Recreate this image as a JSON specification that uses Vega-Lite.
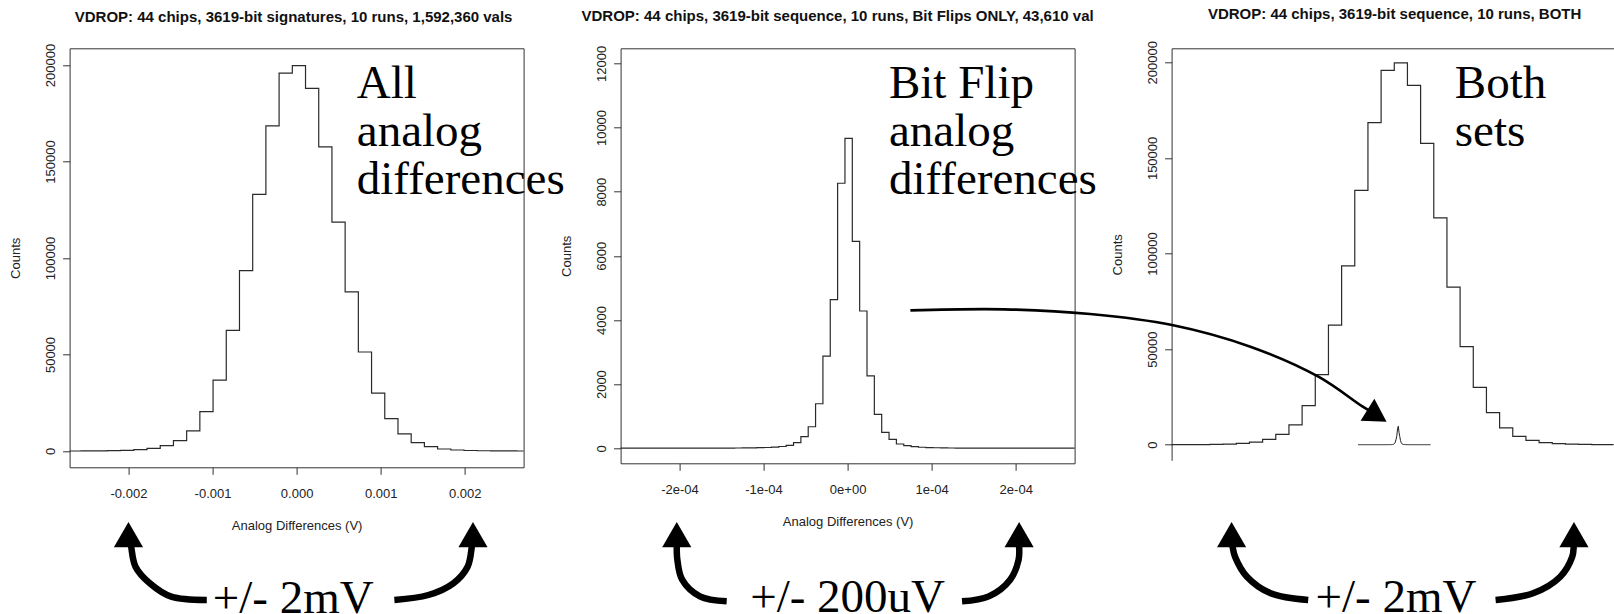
{
  "$schema": "https://vega.github.io/schema/vega-lite/v6.json",
  "autosize": {"type": "none"},
  "padding": {"left": 69.6, "top": 48.3, "right": 1544.4, "bottom": 565.7},
  "background": "white",
  "spacing": 97,
  "bounds": "flush",
  "datasets": {
    "all": [
      {"x": -0.0027217, "y": 10}, {"x": -0.0025646, "y": 30}, {"x": -0.0024075, "y": 70},
      {"x": -0.0022504, "y": 150}, {"x": -0.0020933, "y": 300}, {"x": -0.0019362, "y": 700},
      {"x": -0.0017791, "y": 1390}, {"x": -0.001622, "y": 2770}, {"x": -0.0014649, "y": 5360},
      {"x": -0.0013078, "y": 10400}, {"x": -0.0011507, "y": 20400}, {"x": -0.0009936, "y": 36700},
      {"x": -0.0008365, "y": 62500}, {"x": -0.0006794, "y": 93500}, {"x": -0.0005223, "y": 133000},
      {"x": -0.0003652, "y": 168500}, {"x": -0.0002081, "y": 195800}, {"x": -0.000051, "y": 199700},
      {"x": 0.0001061, "y": 187900}, {"x": 0.0002632, "y": 157600}, {"x": 0.0004203, "y": 118600},
      {"x": 0.0005774, "y": 82400}, {"x": 0.0007345, "y": 51300}, {"x": 0.0008916, "y": 30000},
      {"x": 0.0010487, "y": 16800}, {"x": 0.0012058, "y": 8830}, {"x": 0.0013629, "y": 4330},
      {"x": 0.00152, "y": 2250}, {"x": 0.0016771, "y": 1040}, {"x": 0.0018342, "y": 520},
      {"x": 0.0019913, "y": 250}, {"x": 0.0021484, "y": 120}, {"x": 0.0023055, "y": 60},
      {"x": 0.0024626, "y": 30}, {"x": 0.0026197, "y": 10}, {"x": 0.0027768, "y": 5}
    ],
    "flip": [
      {"x": -0.00048384, "y": 1}, {"x": -0.0004751, "y": 1}, {"x": -0.00046636, "y": 1}, {"x": -0.00045762, "y": 1},
      {"x": -0.00044888, "y": 1}, {"x": -0.00044014, "y": 1}, {"x": -0.0004314, "y": 1}, {"x": -0.00042266, "y": 1},
      {"x": -0.00041392, "y": 1}, {"x": -0.00040518, "y": 1}, {"x": -0.00039644, "y": 1}, {"x": -0.0003877, "y": 1},
      {"x": -0.00037896, "y": 1}, {"x": -0.00037022, "y": 1}, {"x": -0.00036148, "y": 1}, {"x": -0.00035274, "y": 1},
      {"x": -0.000344, "y": 1}, {"x": -0.00033526, "y": 1}, {"x": -0.00032652, "y": 1}, {"x": -0.00031778, "y": 2},
      {"x": -0.00030904, "y": 2}, {"x": -0.0003003, "y": 2}, {"x": -0.00029156, "y": 2}, {"x": -0.00028282, "y": 2},
      {"x": -0.00027408, "y": 2}, {"x": -0.00026534, "y": 2}, {"x": -0.0002566, "y": 2}, {"x": -0.00024786, "y": 2},
      {"x": -0.00023912, "y": 2}, {"x": -0.00023038, "y": 3}, {"x": -0.00022164, "y": 3}, {"x": -0.0002129, "y": 3},
      {"x": -0.00020416, "y": 3}, {"x": -0.00019542, "y": 3}, {"x": -0.00018668, "y": 3}, {"x": -0.00017794, "y": 3},
      {"x": -0.0001692, "y": 4}, {"x": -0.00016046, "y": 5}, {"x": -0.00015172, "y": 6}, {"x": -0.00014298, "y": 7},
      {"x": -0.00013424, "y": 9}, {"x": -0.0001255, "y": 11}, {"x": -0.00011676, "y": 14}, {"x": -0.00010802, "y": 18},
      {"x": -0.00009928, "y": 25}, {"x": -0.00009054, "y": 35}, {"x": -0.0000818, "y": 55}, {"x": -0.00007306, "y": 93},
      {"x": -0.00006432, "y": 174}, {"x": -0.00005558, "y": 361}, {"x": -0.00004684, "y": 672}, {"x": -0.0000381, "y": 1388},
      {"x": -0.00002936, "y": 2871}, {"x": -0.00002062, "y": 4634}, {"x": -0.00001188, "y": 8262}, {"x": -0.00000314, "y": 9661},
      {"x": 0.0000056, "y": 6448}, {"x": 0.00001434, "y": 4280}, {"x": 0.00002308, "y": 2258}, {"x": 0.00003182, "y": 1057},
      {"x": 0.00004056, "y": 497}, {"x": 0.0000493, "y": 280}, {"x": 0.00005804, "y": 134}, {"x": 0.00006678, "y": 81},
      {"x": 0.00007552, "y": 50}, {"x": 0.00008426, "y": 32}, {"x": 0.000093, "y": 22}, {"x": 0.00010174, "y": 16},
      {"x": 0.00011048, "y": 12}, {"x": 0.00011922, "y": 9}, {"x": 0.00012796, "y": 7}, {"x": 0.0001367, "y": 6},
      {"x": 0.00014544, "y": 5}, {"x": 0.00015418, "y": 4}, {"x": 0.00016292, "y": 3}, {"x": 0.00017166, "y": 3},
      {"x": 0.0001804, "y": 3}, {"x": 0.00018914, "y": 3}, {"x": 0.00019788, "y": 3}, {"x": 0.00020662, "y": 3},
      {"x": 0.00021536, "y": 2}, {"x": 0.0002241, "y": 2}, {"x": 0.00023284, "y": 2}, {"x": 0.00024158, "y": 2},
      {"x": 0.00025032, "y": 2}, {"x": 0.00025906, "y": 2}, {"x": 0.0002678, "y": 2}, {"x": 0.00027654, "y": 2},
      {"x": 0.00028528, "y": 1}, {"x": 0.00029402, "y": 1}, {"x": 0.00030276, "y": 1}, {"x": 0.0003115, "y": 1},
      {"x": 0.00032024, "y": 1}, {"x": 0.00032898, "y": 1}, {"x": 0.00033772, "y": 1}, {"x": 0.00034646, "y": 1},
      {"x": 0.0003552, "y": 1}, {"x": 0.00036394, "y": 1}, {"x": 0.00037268, "y": 1}, {"x": 0.00038142, "y": 0}
    ]
  },
  "hconcat": [
    {
      "width": 454,
      "height": 419,
      "title": {"text": "VDROP: 44 chips, 3619-bit signatures, 10 runs, 1,592,360 vals", "dx": -3, "offset": 18.8},
      "encoding": {
        "x": {"field": "x", "type": "quantitative",
              "scale": {"domain": [-0.0027, 0.0027], "nice": false, "zero": false},
              "axis": {"values": [-0.002, -0.001, 0, 0.001, 0.002], "format": ".3f", "title": "Analog Differences (V)"}},
        "y": {"field": "y", "type": "quantitative",
              "scale": {"domain": [-8446, 208653], "nice": false, "zero": false},
              "axis": {"values": [0, 50000, 100000, 150000, 200000], "format": "d", "title": "Counts"}}
      },
      "layer": [
        {"data": {"name": "all"},
         "mark": {"type": "line", "interpolate": "step-after", "clip": true, "color": "#2a2a2a", "strokeWidth": 1.2}},
        {"data": {"values": [{"x": 0.000716, "y": 183160, "t": "All\nanalog\ndifferences"}]},
         "mark": {"type": "text", "font": "Liberation Serif", "fontSize": 47, "lineHeight": 48, "lineBreak": "\n", "align": "left", "baseline": "alphabetic", "color": "#000"},
         "encoding": {"text": {"field": "t"}}},
        {"data": {"values": [{"x": -0.00004, "y": -83680, "t": "+/- 2mV"}]},
         "mark": {"type": "text", "font": "Liberation Serif", "fontSize": 47, "align": "center", "baseline": "alphabetic", "color": "#000"},
         "encoding": {"text": {"field": "t"}}},
        {"data": {"values": [
          {"a": "L", "i": 0, "x": -0.001068, "y": -77200}, {"a": "L", "i": 1, "x": -0.001491, "y": -75490},
          {"a": "L", "i": 2, "x": -0.001746, "y": -68550}, {"a": "L", "i": 3, "x": -0.001916, "y": -59950},
          {"a": "L", "i": 4, "x": -0.001967, "y": -49590}, {"a": "L", "i": 5, "x": -0.001977, "y": -46110},
          {"a": "R", "i": 0, "x": 0.001163, "y": -77200}, {"a": "R", "i": 1, "x": 0.001567, "y": -74610},
          {"a": "R", "i": 2, "x": 0.001864, "y": -68550}, {"a": "R", "i": 3, "x": 0.002034, "y": -59950},
          {"a": "R", "i": 4, "x": 0.002084, "y": -49590}, {"a": "R", "i": 5, "x": 0.002093, "y": -46110}
         ]},
         "mark": {"type": "line", "interpolate": "catmull-rom", "color": "#000", "strokeWidth": 6.5},
         "encoding": {"detail": {"field": "a"}, "order": {"field": "i"}}},
        {"data": {"values": [{"x": -0.002, "y": -43300}, {"x": 0.002098, "y": -43300}]},
         "mark": {"type": "point", "shape": "triangle-up", "filled": true, "size": 850, "color": "#000", "opacity": 1}}
      ]
    },
    {
      "width": 454,
      "height": 415,
      "title": {"text": "VDROP: 44 chips, 3619-bit sequence, 10 runs, Bit Flips ONLY, 43,610 val", "dx": -10, "offset": 21},
      "encoding": {
        "x": {"field": "x", "type": "quantitative",
              "scale": {"domain": [-0.00027, 0.00027], "nice": false, "zero": false},
              "axis": {"values": [-0.0002, -0.0001, 0, 0.0001, 0.0002],
                       "labelExpr": "datum.value == 0 ? '0e+00' : format(datum.value * 10000, '.0f') + 'e-04'",
                       "title": "Analog Differences (V)"}},
        "y": {"field": "y", "type": "quantitative",
              "scale": {"domain": [-468, 12469], "nice": false, "zero": false},
              "axis": {"values": [0, 2000, 4000, 6000, 8000, 10000, 12000], "format": "d", "title": "Counts"}}
      },
      "layer": [
        {"data": {"name": "flip"},
         "mark": {"type": "line", "interpolate": "step-after", "clip": true, "color": "#2a2a2a", "strokeWidth": 1.2}},
        {"data": {"values": [{"x": 0.0000492, "y": 10929, "t": "Bit Flip\nanalog\ndifferences"}]},
         "mark": {"type": "text", "font": "Liberation Serif", "fontSize": 47, "lineHeight": 48, "lineBreak": "\n", "align": "left", "baseline": "alphabetic", "color": "#000"},
         "encoding": {"text": {"field": "t"}}},
        {"data": {"values": [{"x": 0.0, "y": -5118, "t": "+/- 200uV"}]},
         "mark": {"type": "text", "font": "Liberation Serif", "fontSize": 47, "align": "center", "baseline": "alphabetic", "color": "#000"},
         "encoding": {"text": {"field": "t"}}},
        {"data": {"values": [
          {"a": "L", "i": 0, "x": -0.0001438, "y": -4771}, {"a": "L", "i": 1, "x": -0.0001757, "y": -4616},
          {"a": "L", "i": 2, "x": -0.0001968, "y": -4096}, {"a": "L", "i": 3, "x": -0.0002025, "y": -3474},
          {"a": "L", "i": 4, "x": -0.0002032, "y": -3061},
          {"a": "R", "i": 0, "x": 0.0001361, "y": -4771}, {"a": "R", "i": 1, "x": 0.0001679, "y": -4616},
          {"a": "R", "i": 2, "x": 0.0001934, "y": -4096}, {"a": "R", "i": 3, "x": 0.0002034, "y": -3474},
          {"a": "R", "i": 4, "x": 0.000204, "y": -3061}
         ]},
         "mark": {"type": "line", "interpolate": "catmull-rom", "color": "#000", "strokeWidth": 6.5},
         "encoding": {"detail": {"field": "a"}, "order": {"field": "i"}}},
        {"data": {"values": [{"x": -0.0002032, "y": -2693}, {"x": 0.000204, "y": -2693}]},
         "mark": {"type": "point", "shape": "triangle-up", "filled": true, "size": 850, "color": "#000", "opacity": 1}}
      ]
    },
    {
      "width": 442,
      "height": 412,
      "view": {"stroke": null},
      "title": {"text": "VDROP: 44 chips, 3619-bit sequence, 10 runs, BOTH", "dx": 2, "offset": 18.3},
      "encoding": {
        "x": {"field": "x", "type": "quantitative",
              "scale": {"domain": [-0.002708, 0.002566], "nice": false, "zero": false},
              "axis": {"values": [-0.002, -0.001, 0, 0.001, 0.002], "format": ".3f", "title": "Analog Differences (V)", "domain": true}},
        "y": {"field": "y", "type": "quantitative",
              "scale": {"domain": [-8159, 207322], "nice": false, "zero": false},
              "axis": {"values": [0, 50000, 100000, 150000, 200000], "format": "d", "title": "Counts", "domain": true}}
      },
      "layer": [
        {"data": {"name": "all"},
         "mark": {"type": "line", "interpolate": "step-after", "clip": true, "color": "#2a2a2a", "strokeWidth": 1.2}},
        {"data": {"name": "flip"},
         "mark": {"type": "line", "color": "#222", "strokeWidth": 1}},
        {"data": {"values": [{"x": 0.000671, "y": 181490, "t": "Both\nsets"}]},
         "mark": {"type": "text", "font": "Liberation Serif", "fontSize": 47, "lineHeight": 48, "lineBreak": "\n", "align": "left", "baseline": "alphabetic", "color": "#000"},
         "encoding": {"text": {"field": "t"}}},
        {"data": {"values": [{"x": -0.00003, "y": -87760, "t": "+/- 2mV"}]},
         "mark": {"type": "text", "font": "Liberation Serif", "fontSize": 47, "align": "center", "baseline": "alphabetic", "color": "#000"},
         "encoding": {"text": {"field": "t"}}},
        {"data": {"values": [
          {"a": "L", "i": 0, "x": -0.001078, "y": -81220}, {"a": "L", "i": 1, "x": -0.001525, "y": -77720},
          {"a": "L", "i": 2, "x": -0.001809, "y": -69040}, {"a": "L", "i": 3, "x": -0.001951, "y": -58580},
          {"a": "L", "i": 4, "x": -0.00198, "y": -53350}, {"a": "L", "i": 5, "x": -0.001987, "y": -49840},
          {"a": "R", "i": 0, "x": 0.001158, "y": -81220}, {"a": "R", "i": 1, "x": 0.001605, "y": -77720},
          {"a": "R", "i": 2, "x": 0.00193, "y": -69040}, {"a": "R", "i": 3, "x": 0.002073, "y": -58580},
          {"a": "R", "i": 4, "x": 0.00209, "y": -53350}, {"a": "R", "i": 5, "x": 0.002093, "y": -49840}
         ]},
         "mark": {"type": "line", "interpolate": "catmull-rom", "color": "#000", "strokeWidth": 6.5},
         "encoding": {"detail": {"field": "a"}, "order": {"field": "i"}}},
        {"data": {"values": [{"x": -0.001992, "y": -47070}, {"x": 0.002093, "y": -47070}]},
         "mark": {"type": "point", "shape": "triangle-up", "filled": true, "size": 850, "color": "#000", "opacity": 1}},
        {"data": {"values": [
          {"i": 0, "x": -0.005825, "y": 70290}, {"i": 1, "x": -0.004704, "y": 70820},
          {"i": 2, "x": -0.003681, "y": 68360}, {"i": 3, "x": -0.002703, "y": 62600},
          {"i": 4, "x": -0.001768, "y": 51260}, {"i": 5, "x": -0.000956, "y": 35570},
          {"i": 6, "x": -0.000427, "y": 19870}, {"i": 7, "x": -0.000292, "y": 16320}
         ]},
         "mark": {"type": "line", "interpolate": "catmull-rom", "color": "#000", "strokeWidth": 2.7},
         "encoding": {
           "order": {"field": "i"},
           "x": {"field": "x", "type": "quantitative",
                 "axis": {"orient": "top", "labels": false, "ticks": false, "domain": true, "title": null}}
         }},
        {"data": {"values": [{"x": -0.000257, "y": 15170}]},
         "mark": {"type": "point", "shape": "triangle-right", "angle": 32, "filled": true, "size": 676, "color": "#000", "opacity": 1}}
      ]
    }
  ],
  "config": {
    "locale": {"number": {"decimal": ".", "thousands": ",", "grouping": [3], "currency": ["$", ""], "minus": "-"}},
    "font": "Liberation Sans",
    "view": {"stroke": "#333", "strokeWidth": 1},
    "title": {"frame": "group", "baseline": "alphabetic", "fontSize": 15, "fontWeight": "bold", "font": "Liberation Sans", "color": "#111", "anchor": "middle"},
    "axis": {"grid": false, "domain": false, "domainColor": "#333", "domainWidth": 1, "tickColor": "#333", "tickSize": 7,
             "labelFont": "Liberation Sans", "labelFontSize": 13, "labelColor": "#222",
             "titleFont": "Liberation Sans", "titleFontSize": 13, "titleFontWeight": "normal", "titleColor": "#222",
             "labelFlush": false, "labelOverlap": false},
    "axisX": {"labelPadding": 13, "titlePadding": 19},
    "axisY": {"labelAngle": -90, "labelAlign": "center", "labelBaseline": "bottom", "labelPadding": 5, "titlePadding": 22}
  }
}
